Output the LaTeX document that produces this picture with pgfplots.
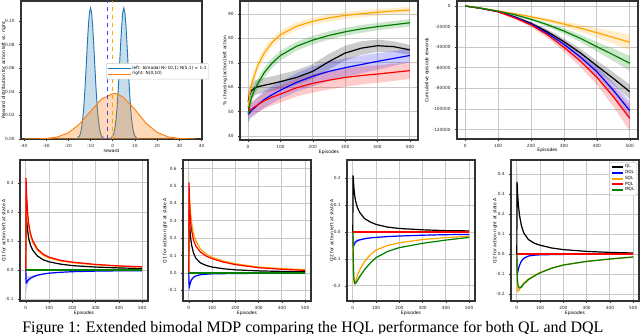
\documentclass[border=0pt]{standalone}
\usepackage{fontspec}
\setmainfont{DejaVu Sans}
\newfontfamily\capfont{Liberation Serif}
\usepackage{pgfplots}
\pgfplotsset{compat=1.18}
\usepackage{pgfplotstable}
\usepgfplotslibrary{fillbetween}

\definecolor{cQL}{HTML}{000000}
\definecolor{cDQL}{HTML}{0000FF}
\definecolor{cSQL}{HTML}{FFA500}
\definecolor{cPQL}{HTML}{FF0000}
\definecolor{cMQL}{HTML}{008000}
\definecolor{mblue}{HTML}{1F77B4}
\definecolor{morange}{HTML}{FF7F0E}

\newcommand{\lblfont}{\fontsize{3.4}{4}\selectfont}
\pgfplotsset{
  panel/.style={
    scale only axis,
    axis line style={black!80, line width=0.85pt},
    tick align=outside, tick pos=left,
    major tick length=1.3pt,
    tick style={black!80, line width=0.4pt},
    ticklabel style={font=\fontsize{3.2}{3.6}\selectfont, text=black!85},
    xticklabel style={yshift=0.5pt},
    /pgf/number format/assume math mode=true,
    grid style={black!22, line width=0.65pt},
    every axis x label/.style={at={(axis description cs:0.5,-0.085)}, anchor=center, font=\lblfont},
    every axis y label/.style={at={(axis description cs:#1,0.5)}, rotate=90, anchor=center, font=\lblfont},
  },
  panel/.default={-0.1},
  ep/.style={xmin=-25, xmax=525, xtick={0,100,...,500}, xlabel={Episodes}, grid=major},
  qpanel/.style={panel=#1, ep, width=96pt, height=105.75pt,
    yticklabel style={/pgf/number format/.cd, fixed, fixed zerofill, precision=1}},
  smalllegend/.style={legend cell align=left,
    legend style={font=\fontsize{3.2}{3.6}\selectfont, draw=black!20, rounded corners=1pt,
      inner sep=0.8pt, row sep=-1.6pt, nodes={inner sep=1pt}}},
}

% mean line with shaded band: table, column, colour, path id
\newcommand{\mband}[4]{%
  \addplot[draw=none, forget plot, name path=#4u] table[x=x, y expr=\thisrow{#2}+\thisrow{#2d}] {#1};
  \addplot[draw=none, forget plot, name path=#4l] table[x=x, y expr=\thisrow{#2}-\thisrow{#2d}] {#1};
  \addplot[fill=#3, fill opacity=0.2, draw=none, forget plot] fill between[of=#4u and #4l];
  \addplot[#3, line width=0.9pt] table[x=x, y=#2] {#1};
}
\newcommand{\allbands}[2]{%
  \mband{#1}{k}{cQL}{#2k}
  \mband{#1}{b}{cDQL}{#2b}
  \mband{#1}{o}{cSQL}{#2o}
  \mband{#1}{r}{cPQL}{#2r}
  \mband{#1}{g}{cMQL}{#2g}
}

% % choosing left
\pgfplotstableread{
x   k    kd  b    bd  o    od  r    rd  g    gd
0   54   3   49   3   52   7   52   3   49   4
5   57   3   49.5 3   57   4   50.5 3   53   3
10  58.5 3   50.5 3   61   3   51   3   55.5 2.5
20  59.7 3   51.5 3   65   2.5 52   3   59   2
30  60.2 3   52.8 3.2 69   2   52.8 3   61.5 2
50  60.8 3   55   3.5 74   2   54.5 3.2 66   2
75  61.5 3   57   3.5 78.5 1.8 56   3.4 70   2
100 62.3 3   58.8 3.5 81.5 1.8 57.2 3.5 73   2
150 64   3   62   3.8 85   1.6 59.8 3.6 76.8 1.8
200 66.5 3   64.5 4   87   1.5 61.6 3.8 79.3 1.8
250 70.5 3.2 66.5 4   88.4 1.5 62.9 3.8 81.2 1.7
300 74   3   68   3.8 89.4 1.5 64   3.8 82.7 1.6
350 76   2.8 69.3 3.6 90.1 1.4 64.8 3.7 83.9 1.6
400 77   2.5 70.6 3.4 90.7 1.4 65.4 3.6 84.8 1.5
450 76.6 2.2 71.8 3   91.2 1.3 66.1 3.5 85.6 1.5
500 75.3 2   73   2.8 91.6 1.3 66.8 3.4 86.4 1.5
}\tabB

% cumulative rewards
\pgfplotstableread{
x   k      kd   b       bd   o      od   r       rd    g      gd
0   0      0    0       0    0      0    0       0     0      0
50  -2400  150  -2400   150  -2200  100  -2400   150   -2300  100
100 -5500  500  -5500   500  -4800  400  -5600   600   -5000  400
150 -10500 900  -10800  1000 -7500  800  -11500  1200  -8500  800
200 -16800 1500 -17500  1600 -10400 1300 -18400  2000  -12900 1300
250 -25000 2200 -26500  2400 -13800 1900 -28000  3000  -18200 1900
300 -34600 3000 -37200  3300 -17500 2700 -40100  4200  -24300 2700
350 -45500 3900 -49700  4400 -21500 3600 -53500  5600  -31400 3600
400 -58000 4900 -63800  5600 -25900 4700 -69200  7300  -39500 4700
450 -70300 6000 -81800  7200 -30500 6000 -88000  9500  -47400 6000
500 -83200 7000 -101600 9000 -35200 7500 -109000 12500 -55600 7300
}\tabC

% Q1 left
\pgfplotstableread{
x   k     kd    b      bd    o     od    r     rd    g gd
0   0     0     0      0     0     0     0     0     0 0
1   0.2   0.03  -0.03  0.04  0.26  0.04  0.317 0.05  0 0
2   0.19  0.03  -0.045 0.035 0.25  0.03  0.29  0.04  0 0
3   0.18  0.02  -0.045 0.03  0.24  0.03  0.27  0.03  0 0
5   0.16  0.02  -0.042 0.02  0.215 0.02  0.235 0.02  0 0
8   0.135 0.01  -0.037 0.015 0.18  0.015 0.195 0.015 0 0
12  0.11  0.01  -0.033 0.01  0.152 0.01  0.163 0.01  0 0
20  0.085 0.005 -0.028 0.008 0.118 0.005 0.125 0.005 0 0
30  0.068 0.003 -0.024 0.005 0.094 0.004 0.1   0.004 0 0
50  0.048 0.002 -0.018 0.003 0.068 0.003 0.072 0.003 0 0
75  0.035 0.002 -0.014 0.002 0.051 0.002 0.054 0.002 0 0
100 0.028 0.001 -0.011 0.002 0.041 0.002 0.044 0.002 0 0
150 0.02  0.001 -0.008 0.001 0.031 0.001 0.033 0.001 0 0
200 0.015 0.001 -0.006 0.001 0.025 0.001 0.027 0.001 0 0
300 0.01  0.001 -0.004 0.001 0.018 0.001 0.019 0.001 0 0
400 0.007 0.001 -0.003 0.001 0.013 0.001 0.014 0.001 0 0
500 0.005 0.001 -0.003 0.001 0.01  0.001 0.011 0.001 0 0
}\tabD

% Q1 right
\pgfplotstableread{
x   k     kd    b      bd    o     od    r     rd    g gd
0   0     0     0      0     0     0     0     0     0 0
1   0.36  0.03  -0.06  0.02  0.45  0.13  0.52  0.06  0 0
2   0.33  0.03  -0.08  0.02  0.45  0.08  0.46  0.04  0 0
3   0.3   0.02  -0.075 0.02  0.43  0.05  0.41  0.03  0 0
5   0.25  0.02  -0.065 0.015 0.39  0.03  0.35  0.02  0 0
8   0.2   0.01  -0.05  0.01  0.34  0.02  0.29  0.015 0 0
12  0.16  0.01  -0.038 0.008 0.29  0.015 0.245 0.01  0 0
20  0.115 0.005 -0.025 0.005 0.225 0.01  0.19  0.006 0 0
30  0.085 0.003 -0.017 0.003 0.185 0.006 0.155 0.004 0 0
50  0.058 0.002 -0.01  0.002 0.138 0.004 0.12  0.003 0 0
75  0.043 0.001 -0.007 0.001 0.108 0.003 0.097 0.002 0 0
100 0.034 0.001 -0.005 0.001 0.09  0.002 0.082 0.002 0 0
150 0.024 0.001 -0.004 0.001 0.068 0.002 0.062 0.001 0 0
200 0.018 0.001 -0.003 0.001 0.053 0.001 0.048 0.001 0 0
300 0.012 0.001 -0.002 0.001 0.034 0.001 0.03  0.001 0 0
400 0.009 0.001 -0.001 0.001 0.025 0.001 0.021 0.001 0 0
500 0.007 0.001 -0.001 0.001 0.019 0.001 0.015 0.001 0 0
}\tabE

% Q2 left
\pgfplotstableread{
x   k     kd    b      bd    o      od    r rd g      gd
0   0     0     0      0     0      0     0 0  0      0
1   0.21  0.03  -0.03  0.01  -0.08  0.01  0 0  -0.05  0.01
2   0.2   0.02  -0.045 0.015 -0.13  0.015 0 0  -0.1   0.01
3   0.185 0.015 -0.05  0.015 -0.16  0.02  0 0  -0.14  0.01
5   0.16  0.01  -0.048 0.012 -0.185 0.02  0 0  -0.175 0.01
8   0.135 0.008 -0.042 0.01  -0.19  0.015 0 0  -0.19  0.01
12  0.115 0.005 -0.037 0.008 -0.185 0.01  0 0  -0.19  0.008
20  0.09  0.004 -0.032 0.006 -0.16  0.008 0 0  -0.18  0.006
30  0.072 0.003 -0.029 0.004 -0.14  0.005 0 0  -0.165 0.005
50  0.05  0.002 -0.025 0.003 -0.11  0.004 0 0  -0.14  0.004
75  0.037 0.002 -0.022 0.002 -0.084 0.003 0 0  -0.115 0.003
100 0.028 0.001 -0.02  0.002 -0.067 0.002 0 0  -0.095 0.003
150 0.018 0.001 -0.017 0.001 -0.05  0.002 0 0  -0.072 0.002
200 0.013 0.001 -0.015 0.001 -0.04  0.001 0 0  -0.058 0.002
300 0.008 0.001 -0.012 0.001 -0.028 0.001 0 0  -0.042 0.001
400 0.005 0.001 -0.01  0.001 -0.021 0.001 0 0  -0.03  0.001
500 0.004 0.001 -0.009 0.001 -0.016 0.001 0 0  -0.02  0.001
}\tabF

% Q2 right
\pgfplotstableread{
x   k     kd    b      bd    o      od    r rd g      gd
0   0     0     0      0     0      0     0 0  0      0
1   0.36  0.08  -0.08  0.02  -0.1   0.01  0 0  -0.06  0.01
2   0.34  0.06  -0.1   0.02  -0.15  0.015 0 0  -0.1   0.01
3   0.31  0.04  -0.095 0.02  -0.175 0.015 0 0  -0.13  0.01
5   0.27  0.03  -0.085 0.015 -0.185 0.015 0 0  -0.155 0.01
8   0.23  0.02  -0.07  0.012 -0.185 0.01  0 0  -0.165 0.008
12  0.19  0.015 -0.055 0.01  -0.175 0.008 0 0  -0.17  0.006
20  0.14  0.01  -0.035 0.006 -0.16  0.006 0 0  -0.165 0.005
30  0.105 0.006 -0.022 0.004 -0.145 0.004 0 0  -0.15  0.004
50  0.072 0.004 -0.01  0.002 -0.125 0.003 0 0  -0.128 0.003
75  0.054 0.003 -0.006 0.001 -0.108 0.002 0 0  -0.11  0.002
100 0.044 0.002 -0.004 0.001 -0.093 0.002 0 0  -0.094 0.002
150 0.03  0.002 -0.003 0.001 -0.07  0.002 0 0  -0.071 0.002
200 0.022 0.001 -0.002 0.001 -0.055 0.001 0 0  -0.055 0.001
300 0.013 0.001 -0.001 0.001 -0.037 0.001 0 0  -0.037 0.001
400 0.008 0.001 -0.001 0.001 -0.025 0.001 0 0  -0.025 0.001
500 0.005 0.001 0      0.001 -0.015 0.001 0 0  -0.015 0.001
}\tabG

\begin{document}
\begin{tikzpicture}

% reward distributions
\begin{axis}[panel=-0.094, smalllegend, at={(15.75pt,145.5pt)}, anchor=south west,
  width=135.75pt, height=103.5pt,
  xmin=-41.3, xmax=40.2, ymin=0, ymax=0.117,
  xtick={-40,-30,...,40}, ytick={0,0.02,...,0.1},
  yticklabel style={/pgf/number format/.cd, fixed, fixed zerofill, precision=2},
  xlabel={reward}, ylabel={Reward distribution for action left vs. right},
  legend style={at={(0.47,0.55)}, anchor=north west}]
\addplot[draw=mblue, fill=mblue, fill opacity=0.25, line width=0.7pt] coordinates {
(-17,0) (-16,0.0004) (-15,0.0024) (-14.5,0.0049) (-14,0.0094) (-13.5,0.0168) (-13,0.0277)
(-12.5,0.0424) (-12,0.0598) (-11.5,0.0782) (-11,0.0948) (-10.5,0.1069) (-10,0.111)
(-9.5,0.1069) (-9,0.0948) (-8.5,0.0782) (-8,0.0598) (-7.5,0.0424) (-7,0.0277) (-6.5,0.0168)
(-6,0.0094) (-5.5,0.0049) (-5,0.0024) (-4,0.0004) (-2.5,0) (-1,0.0004) (0,0.0024)
(0.5,0.0049) (1,0.0094) (1.5,0.0168) (2,0.0277) (2.5,0.0424) (3,0.0598) (3.5,0.0782)
(4,0.0948) (4.5,0.1069) (5,0.111) (5.5,0.1069) (6,0.0948) (6.5,0.0782) (7,0.0598)
(7.5,0.0424) (8,0.0277) (8.5,0.0168) (9,0.0094) (9.5,0.0049) (10,0.0024) (11,0.0004) (12,0)
} \closedcycle;
\addlegendentry{left: bimodal N(-10,1) N(5,1) = 1:1}
\addplot[draw=morange, fill=morange, fill opacity=0.3, line width=0.7pt] coordinates {
(-40,0.00002) (-35,0.00008) (-30,0.00043) (-25,0.0017) (-20,0.0052) (-15,0.0125)
(-10,0.0234) (-5,0.034) (0,0.0385) (2,0.0385) (5,0.035) (10,0.025) (15,0.0134)
(20,0.0056) (25,0.0018) (30,0.0005) (35,0.0001) (37,0.00005)
} \closedcycle;
\addlegendentry{right: N(0,10)}
\addplot[blue!75, dashed, line width=0.5pt, forget plot] coordinates {(-2.5,0) (-2.5,0.117)};
\addplot[cSQL, dashed, line width=0.5pt, forget plot] coordinates {(0,0) (0,0.117)};
\end{axis}

% % choosing left
\begin{axis}[panel=-0.084, ep, at={(180pt,144.75pt)}, anchor=south west,
  width=133.5pt, height=104.25pt,
  ymin=38.4, ymax=95.3, ytick={40,50,...,90},
  ylabel={\% choosing [action] left action}]
\allbands{\tabB}{B}
\end{axis}

% cumulative rewards
\begin{axis}[panel=-0.165, ep, at={(342.75pt,145.5pt)}, anchor=south west,
  width=135.75pt, height=103.5pt,
  ymin=-129100, ymax=4850, ytick={-120000,-100000,...,0},
  scaled y ticks=false,
  yticklabel style={/pgf/number format/.cd, fixed, precision=0, 1000 sep={}},
  ylabel={Cumulative episode rewards}]
\allbands{\tabC}{C}
\end{axis}

% Q1 left
\begin{axis}[qpanel=-0.125, at={(15pt,24pt)}, anchor=south west,
  ymin=-0.107, ymax=0.379, ytick={-0.1,0,...,0.3},
  ylabel={Q1 for action left at state A}]
\allbands{\tabD}{D}
\end{axis}

% Q1 right
\begin{axis}[qpanel=-0.14, at={(137.25pt,24pt)}, anchor=south west,
  ymin=-0.161, ymax=0.649, ytick={-0.1,0,...,0.6},
  ylabel={Q1 for action right at state A}]
\allbands{\tabE}{E}
\end{axis}

% Q2 left
\begin{axis}[qpanel=-0.117, at={(260.25pt,24pt)}, anchor=south west,
  ymin=-0.256, ymax=0.267, ytick={-0.2,-0.1,...,0.2},
  ylabel={Q2 for action left at state A}]
\allbands{\tabF}{F}
\end{axis}

% Q2 right
\begin{axis}[qpanel=-0.125, smalllegend, at={(383.25pt,24pt)}, anchor=south west,
  ymin=-0.235, ymax=0.47, ytick={-0.2,-0.1,...,0.4},
  ylabel={Q2 for action right at state A},
  legend style={at={(0.985,0.985)}, anchor=north east},
  legend image code/.code={\draw[#1, line width=1.5pt] (0pt,0pt) -- (8pt,0pt);}]
\allbands{\tabG}{G}
\legend{QL,DQL,SQL,PQL,MQL}
\end{axis}

\node[anchor=base west, font=\capfont\fontsize{12}{14}\selectfont, inner sep=0pt]
  at (16.5pt,0.5pt) {Figure 1: Extended bimodal MDP comparing the HQL performance for both QL and DQL};

\pgfresetboundingbox
\useasboundingbox (0,0) rectangle (480pt,249.75pt);
\end{tikzpicture}
\end{document}
